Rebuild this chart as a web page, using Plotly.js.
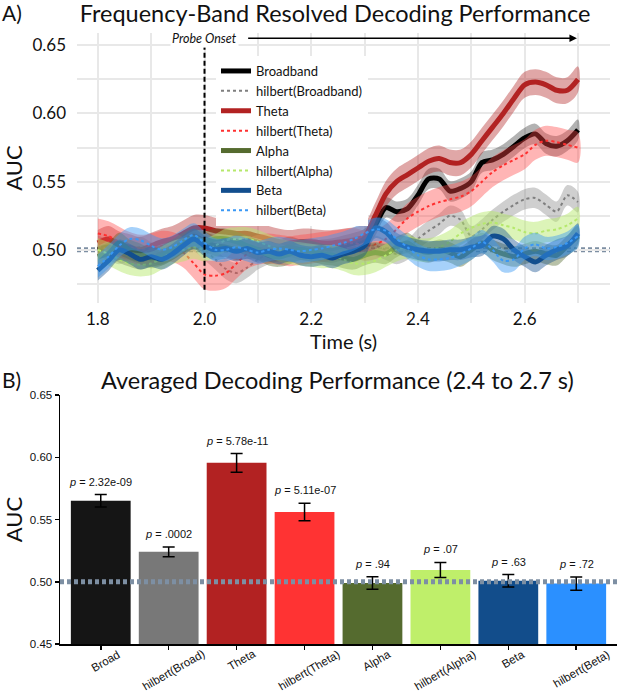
<!DOCTYPE html>
<html>
<head>
<meta charset="utf-8">
<script src="https://cdn.plot.ly/plotly-3.0.1.min.js"></script>
<style>html,body{margin:0;padding:0;background:#fff;}#chart{width:617px;height:693px;}</style>
</head>
<body>
<div id="chart"></div>
<script>
// ---------- Panel A data (time in s, AUC) ----------
const times = [1.80,1.82,1.84,1.86,1.88,1.90,1.92,1.94,1.96,1.98,2.00,2.02,2.04,2.06,2.08,2.10,2.12,2.14,2.16,2.18,2.20,2.22,2.24,2.26,2.28,2.30,2.32,2.34,2.36,2.38,2.40,2.42,2.44,2.46,2.48,2.50,2.52,2.54,2.56,2.58,2.60,2.62,2.64,2.66,2.68,2.70];

const broadband = [0.500,0.502,0.498,0.495,0.493,0.495,0.497,0.500,0.505,0.510,0.506,0.503,0.502,0.500,0.501,0.500,0.499,0.500,0.502,0.500,0.499,0.500,0.501,0.503,0.505,0.508,0.518,0.531,0.528,0.530,0.540,0.552,0.552,0.543,0.545,0.550,0.564,0.566,0.570,0.576,0.582,0.585,0.578,0.576,0.580,0.588];
const hilbertBroadband = [0.503,0.500,0.497,0.500,0.502,0.498,0.496,0.500,0.505,0.506,0.500,0.493,0.486,0.483,0.487,0.493,0.497,0.499,0.498,0.500,0.501,0.499,0.498,0.500,0.502,0.503,0.503,0.500,0.497,0.500,0.508,0.514,0.519,0.525,0.522,0.510,0.515,0.522,0.528,0.533,0.537,0.538,0.533,0.528,0.540,0.535];
const theta = [0.505,0.508,0.504,0.502,0.500,0.503,0.506,0.508,0.512,0.516,0.516,0.514,0.513,0.512,0.512,0.510,0.508,0.506,0.505,0.506,0.506,0.505,0.505,0.506,0.507,0.510,0.525,0.541,0.550,0.555,0.560,0.565,0.567,0.564,0.564,0.570,0.580,0.590,0.600,0.611,0.621,0.623,0.621,0.617,0.617,0.625];
const hilbertTheta = [0.512,0.510,0.506,0.502,0.500,0.501,0.503,0.502,0.498,0.490,0.482,0.481,0.483,0.490,0.497,0.500,0.501,0.500,0.499,0.500,0.501,0.502,0.503,0.504,0.505,0.503,0.504,0.508,0.515,0.523,0.528,0.532,0.535,0.537,0.539,0.543,0.550,0.557,0.562,0.566,0.570,0.577,0.580,0.579,0.577,0.575];
const alpha = [0.495,0.498,0.505,0.500,0.497,0.494,0.496,0.500,0.505,0.508,0.506,0.508,0.508,0.506,0.503,0.500,0.496,0.495,0.497,0.500,0.499,0.497,0.496,0.494,0.493,0.496,0.498,0.497,0.502,0.505,0.500,0.498,0.500,0.498,0.495,0.500,0.505,0.500,0.497,0.495,0.497,0.499,0.497,0.496,0.503,0.510];
const hilbertAlpha = [0.500,0.497,0.493,0.490,0.489,0.490,0.494,0.498,0.500,0.502,0.500,0.503,0.507,0.508,0.508,0.506,0.503,0.500,0.498,0.497,0.496,0.495,0.495,0.493,0.490,0.490,0.492,0.496,0.500,0.502,0.500,0.500,0.502,0.506,0.512,0.516,0.519,0.520,0.518,0.516,0.513,0.512,0.514,0.515,0.518,0.523];
const beta = [0.485,0.492,0.500,0.497,0.493,0.495,0.493,0.497,0.503,0.508,0.503,0.500,0.501,0.499,0.501,0.498,0.499,0.497,0.499,0.496,0.495,0.496,0.494,0.497,0.499,0.503,0.516,0.513,0.505,0.502,0.500,0.499,0.499,0.500,0.500,0.502,0.503,0.510,0.508,0.500,0.495,0.491,0.496,0.500,0.503,0.512];
const hilbertBeta = [0.488,0.495,0.503,0.508,0.507,0.503,0.500,0.502,0.507,0.511,0.505,0.500,0.500,0.502,0.500,0.498,0.500,0.501,0.500,0.499,0.500,0.501,0.503,0.505,0.508,0.512,0.515,0.514,0.508,0.502,0.496,0.493,0.493,0.494,0.497,0.501,0.506,0.500,0.492,0.493,0.501,0.504,0.501,0.502,0.505,0.510];
// standard error per series (half-width of the shaded band)
const seriesSem = [0.0075,0.0075,0.0095,0.011,0.0075,0.0085,0.0075,0.0085];
const seriesNames = ['Broadband','hilbert(Broadband)','Theta','hilbert(Theta)','Alpha','hilbert(Alpha)','Beta','hilbert(Beta)'];

// ---------- Panel B data ----------
const barLabels = ['Broad','hilbert(Broad)','Theta','hilbert(Theta)','Alpha','hilbert(Alpha)','Beta','hilbert(Beta)'];
const barMeans = [0.565,0.524,0.5955,0.556,0.499,0.5095,0.5008,0.4985];
const barErrors = [0.005,0.004,0.0075,0.007,0.005,0.006,0.005,0.0053];
const pLabels = ['2.32e-09','.0002','5.78e-11','5.11e-07','.94','.07','.63','.72'];

// ---------- styles ----------
const lineColors = ['#000000','#7f7f7f','#b22222','#ff3030','#556b2f','#b5e86b','#124e8e','#3a98f5'];
const bandColors = ['rgba(0,0,0,0.3)','rgba(128,128,128,0.38)','rgba(178,34,34,0.4)','rgba(255,70,70,0.4)','rgba(85,107,47,0.42)','rgba(181,232,107,0.48)','rgba(18,78,142,0.42)','rgba(58,152,245,0.45)'];
const barColors = ['#151515','#787878','#b22222','#ff3333','#556b2f','#bfef6a','#124d8b','#2b90ff'];

const seriesValues = [broadband,hilbertBroadband,theta,hilbertTheta,alpha,hilbertAlpha,beta,hilbertBeta];
const W = 617, H = 693;
const px = v => v / W;
const py = v => 1 - v / H;
const sansA = 'Lato, "Open Sans", sans-serif';
const sansB = '"Liberation Sans", Arial, sans-serif';

const traces = [];
seriesValues.forEach((vals, i) => {
  const s = seriesSem[i];
  const upper = vals.map(v => v + s);
  const lower = vals.map(v => v - s).reverse();
  traces.push({
    x: times.concat(times.slice().reverse()),
    y: upper.concat(lower),
    type: 'scatter', mode: 'lines', fill: 'toself',
    fillcolor: bandColors[i], line: {width: 0, color: 'rgba(0,0,0,0)', shape: 'spline'},
    showlegend: false, hoverinfo: 'skip', xaxis: 'x', yaxis: 'y'
  });
  const hil = i % 2 === 1;
  traces.push({
    x: times, y: vals, name: seriesNames[i],
    type: 'scatter', mode: 'lines',
    line: {color: lineColors[i], width: hil ? 2 : 5, dash: hil ? 'dot' : 'solid', shape: 'spline', smoothing: 0.8},
    xaxis: 'x', yaxis: 'y'
  });
});

traces.push({
  x: barLabels, y: barMeans, type: 'bar',
  marker: {color: barColors, line: {width: 0}},
  error_y: {type: 'data', array: barErrors, visible: true, color: '#000', thickness: 1.5, width: 6},
  showlegend: false, xaxis: 'x2', yaxis: 'y2'
});

const annotations = [];
annotations.push({text: 'A)', xref: 'paper', yref: 'paper', x: 0, y: py(13), xanchor: 'left', yanchor: 'middle', showarrow: false, font: {family: sansA, size: 21, color: '#111'}});
annotations.push({text: 'B)', xref: 'paper', yref: 'paper', x: 0, y: py(379), xanchor: 'left', yanchor: 'middle', showarrow: false, font: {family: sansA, size: 21, color: '#111'}});
annotations.push({text: 'Averaged Decoding Performance (2.4 to 2.7 s)', xref: 'paper', yref: 'paper', x: px(337), y: py(380), xanchor: 'center', yanchor: 'middle', showarrow: false, font: {family: sansA, size: 23.5, color: '#111'}});
annotations.push({text: '', xref: 'x', yref: 'y', x: 2.698, y: 0.6552, axref: 'x', ayref: 'y', ax: 2.079, ay: 0.6552, showarrow: true, arrowhead: 2, arrowsize: 1, arrowwidth: 1.5, arrowcolor: '#000'});
annotations.push({text: '<i>Probe Onset</i>', xref: 'x', yref: 'y', x: 2.0, y: 0.6552, xanchor: 'center', yanchor: 'middle', showarrow: false, bgcolor: '#fff', borderpad: 1, font: {family: sansA, size: 12.5, color: '#111'}});
barLabels.forEach((lab, i) => {
  annotations.push({text: lab, xref: 'x2', yref: 'paper', x: i, y: py(645), xanchor: 'center', yanchor: 'top', xshift: 5, textangle: -30, showarrow: false, font: {family: sansB, size: 11.5, color: '#111'}});
  annotations.push({text: '<i>p</i> = ' + pLabels[i], xref: 'x2', yref: 'y2', x: i, y: barMeans[i] + barErrors[i], xanchor: 'center', yanchor: 'bottom', yshift: 5, showarrow: false, font: {family: sansB, size: 11, color: '#111'}});
});

const shapes = [
  {type: 'line', xref: 'x domain', yref: 'y', x0: 0, x1: 1, y0: 0.5, y1: 0.5, layer: 'below', line: {color: '#7d8fa3', width: 5, dash: '4px,3px'}},
  {type: 'line', xref: 'x', yref: 'y', x0: 2.0, x1: 2.0, y0: 0.4707, y1: 0.6486, layer: 'above', line: {color: '#000', width: 2, dash: '5px,3px'}},
  {type: 'line', xref: 'x2 domain', yref: 'y2', x0: 0, x1: 1, y0: 0.5, y1: 0.5, layer: 'above', line: {color: '#7d8fa3', width: 5, dash: '4px,3px'}}
];

const grid = '#e8e8e8';
const layout = {
  width: W, height: H,
  margin: {l: 0, r: 0, t: 0, b: 0},
  paper_bgcolor: '#fff', plot_bgcolor: '#fff',
  title: {text: 'Frequency-Band Resolved Decoding Performance', x: px(335), xanchor: 'center', y: py(14), yanchor: 'middle', font: {family: sansA, size: 23.5, color: '#111'}},
  showlegend: true,
  legend: {x: px(216), y: py(56), xanchor: 'left', yanchor: 'top', bgcolor: '#fff', borderwidth: 0, tracegroupgap: 0, font: {family: sansA, size: 13, color: '#111'}},
  xaxis: {
    domain: [px(77), px(610)], range: [1.761, 2.76], anchor: 'y',
    tick0: 1.8, dtick: 0.2, tickformat: '.1f', ticks: '', ticklabelstandoff: 4,
    showgrid: true, gridcolor: grid, gridwidth: 2, zeroline: false, showline: false,
    minor: {dtick: 0.1, showgrid: true, gridcolor: grid, gridwidth: 2},
    tickfont: {family: sansA, size: 17, color: '#111'},
    title: {text: 'Time (s)', standoff: 3, font: {family: sansA, size: 20, color: '#111'}}
  },
  yaxis: {
    domain: [py(303), py(33)], range: [0.461, 0.659], anchor: 'x',
    tick0: 0.5, dtick: 0.05, tickformat: '.2f', ticks: '', ticklabelstandoff: 10,
    showgrid: true, gridcolor: grid, gridwidth: 2, zeroline: false, showline: false,
    minor: {dtick: 0.025, showgrid: true, gridcolor: grid, gridwidth: 2},
    tickfont: {family: sansA, size: 17, color: '#111'},
    title: {text: 'AUC', standoff: 5, font: {family: sansA, size: 22, color: '#111'}}
  },
  xaxis2: {
    domain: [px(60), 1], range: [-0.6, 7.6], anchor: 'y2', type: 'category',
    showticklabels: false, ticks: 'outside', ticklen: 4, tickwidth: 1.5, tickcolor: '#000',
    showline: true, linecolor: '#000', linewidth: 1.5, showgrid: false, zeroline: false
  },
  yaxis2: {
    domain: [py(644), py(395)], range: [0.45, 0.65], anchor: 'x2',
    tick0: 0.45, dtick: 0.05, tickformat: '.2f', ticks: 'outside', ticklen: 4, tickwidth: 1.5, tickcolor: '#000',
    showline: true, linecolor: '#000', linewidth: 1.5, showgrid: false, zeroline: false,
    tickfont: {family: sansB, size: 11.5, color: '#111'},
    title: {text: 'AUC', standoff: 8, font: {family: sansA, size: 22, color: '#111'}}
  },
  bargap: 0.12,
  annotations: annotations,
  shapes: shapes
};

Plotly.newPlot('chart', traces, layout, {displayModeBar: false, staticPlot: true});
</script>
</body>
</html>
